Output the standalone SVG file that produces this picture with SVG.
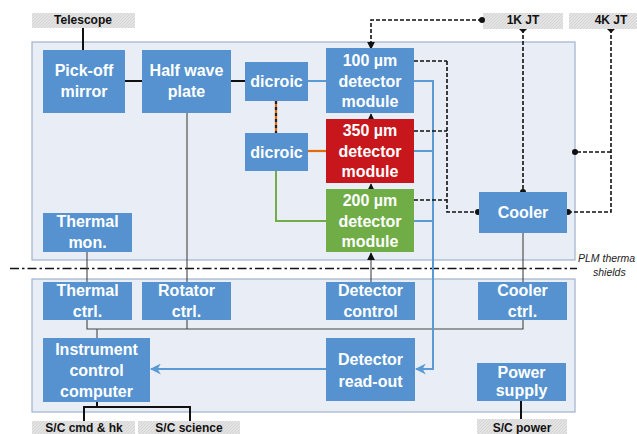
<svg xmlns="http://www.w3.org/2000/svg" width="637" height="434" viewBox="0 0 637 434">
<defs>
<pattern id="hatch" width="3" height="3" patternUnits="userSpaceOnUse">
<rect width="3" height="3" fill="#e4e4e4"/>
<path d="M0 3 L3 0" stroke="#cfcfcf" stroke-width="0.8"/>
</pattern>
<marker id="ab" viewBox="0 0 10 10" refX="9" refY="5" markerWidth="8" markerHeight="8" orient="auto" markerUnits="userSpaceOnUse">
<path d="M0 0 L10 5 L0 10 Z" fill="#111"/>
</marker>
<marker id="abl" viewBox="0 0 10 10" refX="9" refY="5" markerWidth="11" markerHeight="11" orient="auto" markerUnits="userSpaceOnUse">
<path d="M0 0 L10 5 L0 10 L3 5 Z" fill="#5b9bd5"/>
</marker>
<marker id="dot" viewBox="0 0 10 10" refX="5" refY="5" markerWidth="6" markerHeight="6" markerUnits="userSpaceOnUse">
<circle cx="5" cy="5" r="5" fill="#111"/>
</marker>
</defs>
<style>
.panel{fill:#e9eef6;stroke:#9fb3cc;stroke-width:1.2}
.box{fill:#5592cf}
.red{fill:#c8161d}
.green{fill:#70ad47}
.t{font-family:"Liberation Sans",Arial,sans-serif;font-weight:bold;font-size:16px;fill:#fff;text-anchor:middle}
.lbl{fill:url(#hatch)}
.lt{font-family:"Liberation Sans",Arial,sans-serif;font-weight:bold;font-size:12px;fill:#111;text-anchor:middle}
.blk{stroke:#111;stroke-width:2;fill:none}
.thin{stroke:#444;stroke-width:1.1;fill:none}
.blue{stroke:#5b9bd5;stroke-width:2;fill:none}
.dash{stroke:#111;stroke-width:1.6;stroke-dasharray:4 2;fill:none}
.it{font-family:"Liberation Sans",Arial,sans-serif;font-style:italic;font-size:10.5px;fill:#222}
</style>

<g id="panels">
<rect class="panel" x="32" y="42" width="543" height="218"/>
<rect class="panel" x="32" y="279" width="543" height="133"/>
</g>

<g id="labels">
<g id="telescope"><rect class="lbl" x="32" y="13" width="103" height="15"/><text class="lt" x="83" y="24">Telescope</text></g>
<g id="jt1k"><rect class="lbl" x="483" y="13" width="80" height="16"/><text class="lt" x="523" y="24">1K JT</text></g>
<g id="jt4k"><rect class="lbl" x="569" y="13" width="68" height="16"/><text class="lt" x="611" y="24">4K JT</text></g>
<g id="sccmd"><rect class="lbl" x="32" y="421" width="103" height="13"/><text class="lt" x="84" y="432">S/C cmd &amp; hk</text></g>
<g id="scsci"><rect class="lbl" x="138" y="421" width="102" height="13"/><text class="lt" x="189" y="432">S/C science</text></g>
<g id="scpow"><rect class="lbl" x="477" y="419" width="90" height="15"/><text class="lt" x="522" y="432">S/C power</text></g>
<text class="it" x="578" y="262">PLM therma</text>
<text class="it" x="593" y="276">shields</text>
</g>

<g id="connectors">
<line x1="10" y1="268.5" x2="577" y2="268.5" stroke="#111" stroke-width="1.6" stroke-dasharray="9 3 2.5 3"/>
<path class="blk" d="M83 28 V50"/>
<path class="blk" d="M125 81 H142"/>
<path class="blk" d="M231 81 H245"/>
<path class="blue" d="M308 81 H326"/>
<path d="M276 101 V133" stroke="#e36c0a" stroke-width="2.2" fill="none"/>
<path d="M276 101 V133" stroke="#222" stroke-width="2.2" stroke-dasharray="3 3" fill="none"/>
<path d="M308 151 H326" stroke="#e36c0a" stroke-width="2.2" fill="none"/>
<path d="M276 171 V221 H326" stroke="#70ad47" stroke-width="2" fill="none"/>
<path class="thin" d="M187 113 V282"/>
<path class="thin" d="M87 252 V282"/>
<path class="thin" d="M87 320 V329 H523 V320"/>
<path class="thin" d="M187 320 V329"/>
<path class="thin" d="M97 329 V338"/>
<path class="thin" d="M523 233 V282"/>
<path class="thin" d="M371 282 V253" marker-end="url(#ab)"/>
<path class="blue" d="M414 81 H433 M414 151 H433 M414 221 H433"/>
<path class="blue" d="M433 80 V369 H416" marker-end="url(#abl)"/>
<path class="blue" d="M326 369 H151" marker-end="url(#abl)"/>
<path class="blk" d="M97 402 V407 M84 421 V407 H190 V421"/>
<path class="blk" d="M521 401 V419"/>
<path class="dash" d="M482 20 H371 V49" marker-start="url(#dot)" marker-end="url(#ab)"/>
<path class="thin" d="M371 119 V114" marker-end="url(#ab)"/>
<path class="thin" d="M371 189 V184" marker-end="url(#ab)"/>
<path class="dash" d="M414 61 H447 M414 131 H447 M414 200 H447"/>
<path class="dash" d="M447 61 V212 H478" marker-end="url(#dot)"/>
<path class="dash" d="M523 29 V192" marker-end="url(#dot)"/>
<path d="M519 29 H527 L523 33 Z" fill="#111"/>
<path class="dash" d="M611 29 V212 H568" marker-end="url(#dot)"/>
<path d="M607 29 H615 L611 33 Z" fill="#111"/>
<path class="dash" d="M611 152 H575" marker-end="url(#dot)"/>
</g>

<g id="pickoff"><rect class="box" x="43" y="50" width="82" height="63"/><text class="t" x="84" y="76">Pick-off</text><text class="t" x="84" y="97">mirror</text></g>
<g id="hwp"><rect class="box" x="142" y="50" width="89" height="63"/><text class="t" x="186.5" y="76">Half wave</text><text class="t" x="186.5" y="97">plate</text></g>
<g id="dicroic1"><rect class="box" x="245" y="62" width="63" height="39"/><text class="t" x="276.5" y="87">dicroic</text></g>
<g id="dicroic2"><rect class="box" x="245" y="133" width="63" height="38"/><text class="t" x="276.5" y="158">dicroic</text></g>
<g id="det100"><rect class="box" x="326" y="48" width="88" height="65"/><text class="t" x="370" y="66">100 µm</text><text class="t" x="370" y="87">detector</text><text class="t" x="370" y="107">module</text></g>
<g id="det350"><rect class="red" x="326" y="119" width="88" height="64"/><text class="t" x="370" y="136">350 µm</text><text class="t" x="370" y="157">detector</text><text class="t" x="370" y="177">module</text></g>
<g id="det200"><rect class="green" x="326" y="189" width="88" height="63"/><text class="t" x="370" y="206">200 µm</text><text class="t" x="370" y="227">detector</text><text class="t" x="370" y="247">module</text></g>
<g id="cooler"><rect class="box" x="479" y="192" width="88" height="41"/><text class="t" x="523" y="218">Cooler</text></g>
<g id="thermalmon"><rect class="box" x="43" y="213" width="89" height="39"/><text class="t" x="87.5" y="227">Thermal</text><text class="t" x="87.5" y="248">mon.</text></g>
<g id="thermalctrl"><rect class="box" x="43" y="282" width="89" height="38"/><text class="t" x="87.5" y="296">Thermal</text><text class="t" x="87.5" y="317">ctrl.</text></g>
<g id="rotatorctrl"><rect class="box" x="142" y="282" width="89" height="38"/><text class="t" x="186.5" y="296">Rotator</text><text class="t" x="186.5" y="317">ctrl.</text></g>
<g id="detctrl"><rect class="box" x="326" y="282" width="89" height="38"/><text class="t" x="370.5" y="296">Detector</text><text class="t" x="370.5" y="317">control</text></g>
<g id="coolerctrl"><rect class="box" x="478" y="282" width="89" height="38"/><text class="t" x="522.5" y="296">Cooler</text><text class="t" x="522.5" y="317">ctrl.</text></g>
<g id="icc"><rect class="box" x="43" y="338" width="107" height="64"/><text class="t" x="96.5" y="355">Instrument</text><text class="t" x="96.5" y="376">control</text><text class="t" x="96.5" y="397">computer</text></g>
<g id="readout"><rect class="box" x="326" y="338" width="89" height="63"/><text class="t" x="370.5" y="365">Detector</text><text class="t" x="370.5" y="387">read-out</text></g>
<g id="power"><rect class="box" x="477" y="363" width="89" height="38"/><text class="t" x="521.5" y="378">Power</text><text class="t" x="521.5" y="396">supply</text></g>
</svg>
